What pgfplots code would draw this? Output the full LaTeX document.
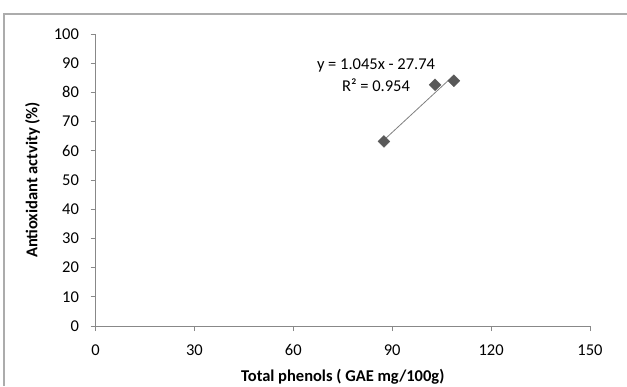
\documentclass[border=0pt]{standalone}
\usepackage{pgfplots}
\pgfplotsset{compat=1.18}
\usepackage{fontspec}
\setmainfont{Carlito}
\definecolor{axgray}{HTML}{888888}
\definecolor{mk}{HTML}{595959}
\begin{document}
\begin{tikzpicture}[x=1pt,y=1pt]
\path[use as bounding box] (0,0) rectangle (627,386);
\draw[color=axgray!70, line width=1.5pt] (4,0) -- (4,372) -- (627,372);
\begin{axis}[
  at={(95.5pt,60pt)}, anchor=south west,
  scale only axis, width=494.5pt, height=292pt,
  xmin=0, xmax=150, ymin=0, ymax=100,
  xtick={0,30,...,150}, ytick={0,10,...,100},
  axis lines=left, axis line style={-, color=axgray, line width=0.8pt},
  tick style={color=axgray, line width=0.8pt},
  tick align=outside, major tick length=5pt,
  tick label style={font=\fontsize{16.5}{19}\selectfont, text=black},
  /pgf/number format/assume math mode=true,
  xticklabel style={yshift=-10pt},
  yticklabel style={xshift=-8pt},
  xlabel={\textbf{Total phenols ( GAE mg/100g)}},
  ylabel={\textbf{Antioxidant actvity (\%)}},
  label style={font=\fontsize{16.5}{19}\selectfont},
  xlabel style={at={(axis description cs:0.5,0)}, anchor=north, yshift=-40pt},
  ylabel style={at={(axis description cs:0,0.5)}, anchor=south, yshift=52pt},
  clip=false,
]
\addplot[color=gray, line width=0.8pt, no marks] coordinates {(87.5,63.70) (108.7,85.85)};
\addplot[only marks, mark=square*, mark size=4.2pt, mark options={rotate=45, fill=mk, draw=mk}] coordinates {
(87.5,63.2) (103.0,82.6) (108.7,84.0)};
\node[align=center, font=\fontsize{16.5}{22}\selectfont, text=black] at (axis cs:85.1,86) {y = 1.045x - 27.74\\R² = 0.954};
\end{axis}
\end{tikzpicture}
\end{document}
